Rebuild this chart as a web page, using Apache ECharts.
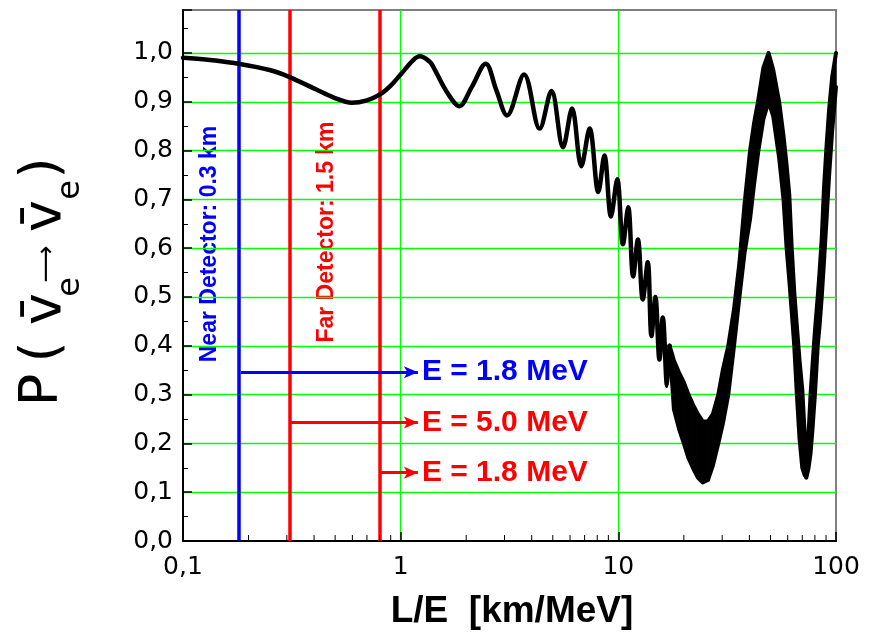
<!DOCTYPE html>
<html lang="en">
<head>
<meta charset="UTF-8">
<title>P(anti-nue -> anti-nue) vs L/E</title>
<script src="https://cdn.jsdelivr.net/npm/echarts@6/dist/echarts.min.js"></script>
<style>
    html, body { margin: 0; padding: 0; background: #fff; }
    #main { width: 877px; height: 634px; }
</style>
</head>
<body>
<div id="main"></div>
<script>
// survival probability, single line part (0.1 .. 17 km/MeV)
var curveX = [0.1, 0.13, 0.185, 0.25, 0.307, 0.41, 0.49, 0.596, 0.70, 0.804, 0.90, 1.0,
    1.14, 1.226, 1.36, 1.41, 1.63, 1.86, 2.12, 2.46, 2.75, 3.08, 3.69, 4.35, 4.93,
    5.57, 6.13, 6.76, 7.38, 8.09, 8.63, 9.25, 9.89, 10.5, 11.1, 11.7, 12.3, 12.95,
    13.65, 14.2, 14.8, 15.45, 16.0, 16.75, 17.2];
var curveY = [0.990, 0.986, 0.977, 0.965, 0.951, 0.925, 0.909, 0.898, 0.903, 0.915, 0.933, 0.956,
    0.985, 0.993, 0.982, 0.972, 0.920, 0.891, 0.930, 0.978, 0.924, 0.872, 0.956, 0.845, 0.922,
    0.807, 0.886, 0.768, 0.845, 0.715, 0.790, 0.665, 0.741, 0.608, 0.684, 0.542, 0.618, 0.495,
    0.571, 0.42, 0.50, 0.372, 0.458, 0.318, 0.40];

// above ~17 km/MeV the fast wiggles merge into a band: top and bottom edge
var bandX = [17.2, 18.0, 19.0, 20.0, 21.0, 22.0, 23.2, 24.4, 25.8, 27.2,
    28.8, 30.2, 32.0, 34.0, 36.0, 38.0, 40.3, 42.0, 44.0, 46.4,
    49.0, 51.5, 54.8, 57.4, 59.3, 61.0, 62.6, 64.3, 66.1, 68.0,
    70.0, 71.8, 73.1, 74.8, 76.4, 78.0, 80.0, 82.4, 84.0, 86.0,
    88.0, 90.5, 93.0, 96.0, 100];
var bandTop = [0.40, 0.37, 0.345, 0.325, 0.30, 0.28, 0.26, 0.245, 0.245, 0.26,
    0.30, 0.35, 0.40, 0.475, 0.57, 0.69, 0.80, 0.855, 0.905, 0.97,
    1.0, 0.965, 0.90, 0.83, 0.77, 0.71, 0.60, 0.51, 0.44, 0.37,
    0.31, 0.22, 0.17, 0.22, 0.30, 0.36, 0.43, 0.50, 0.55, 0.62,
    0.72, 0.81, 0.885, 0.95, 1.0];
var bandBottom = [0.40, 0.27, 0.23, 0.20, 0.17, 0.15, 0.13, 0.12, 0.125, 0.155,
    0.20, 0.24, 0.30, 0.40, 0.50, 0.59, 0.66, 0.73, 0.80, 0.865,
    0.90, 0.87, 0.785, 0.70, 0.60, 0.535, 0.47, 0.40, 0.30, 0.21,
    0.15, 0.135, 0.13, 0.15, 0.18, 0.23, 0.30, 0.40, 0.44, 0.50,
    0.57, 0.66, 0.75, 0.84, 0.93];

// detector positions (L/E) and the energy arrows
var detectorX = [0.1845, 0.307, 0.804];
var detectorColor = ['#0000ff', '#ff0000', '#ff0000'];
var arrowY = [0.346, 0.243, 0.140];
var arrowEnd = 1.2;
var arrowText = ['E = 1.8 MeV', 'E = 5.0 MeV', 'E = 1.8 MeV'];

var myChart = echarts.init(document.getElementById('main'), null, { renderer: 'canvas' });

var curveData = curveX.map(function (x, i) { return [x, curveY[i]]; });
var topData = bandX.map(function (x, i) { return [x, bandTop[i]]; });
var bottomData = bandX.map(function (x, i) { return [x, bandBottom[i]]; });
// one quad per step of the band: x0, x1, top0, top1, bottom0, bottom1
var bandCells = [];
for (var i = 0; i < bandX.length - 1; i++) {
    bandCells.push([bandX[i], bandX[i + 1], bandTop[i], bandTop[i + 1], bandBottom[i], bandBottom[i + 1]]);
}

// log minor ticks 2..9 in every decade
var minorTicks = [];
[0.1, 1, 10].forEach(function (d) {
    for (var k = 2; k <= 9; k++) minorTicks.push([+(k * d).toFixed(2)]);
});

var markData = [];
detectorX.forEach(function (x, i) {
    markData.push({ xAxis: x, lineStyle: { color: detectorColor[i], width: 3.5, type: 'solid' }, label: { show: false } });
});
detectorX.forEach(function (x, i) {
    markData.push([
        { coord: [x, arrowY[i]], symbol: 'none',
          lineStyle: { color: detectorColor[i], width: 3, type: 'solid' },
          label: { show: true, position: 'end', formatter: arrowText[i], color: detectorColor[i],
                   fontSize: 30, fontWeight: 'bold', fontFamily: 'Liberation Sans', distance: 4 } },
        { coord: [arrowEnd, arrowY[i]], symbol: 'arrow', symbolSize: [9, 14] }
    ]);
});

var labelFont = 'DejaVu Sans';

// rotated y title, built from pieces so the subscripts can sit low
function titlePiece(text, x, y, size) {
    return {
        type: 'text', x: x, y: y, rotation: Math.PI / 2,
        style: { text: text, fill: '#000', fontSize: size, fontFamily: 'DejaVu Sans',
                 align: 'center', verticalAlign: 'middle' }
    };
}

var option = {
    backgroundColor: '#ffffff',
    animation: false,
    grid: {
        left: 183, right: 41, top: 10, bottom: 93,
        show: true, borderColor: '#7f7f7f', borderWidth: 2
    },
    xAxis: {
        type: 'log',
        logBase: 10,
        min: 0.1,
        max: 100,
        axisLine: { lineStyle: { color: '#000', width: 2 } },
        axisTick: { inside: true, length: 9, lineStyle: { color: '#000', width: 1.5 } },
        splitLine: { show: true, showMinLine: false, showMaxLine: false, lineStyle: { color: '#00ff00', width: 1.3 } },
        axisLabel: {
            color: '#000', fontSize: 25, fontFamily: labelFont, margin: 14,
            formatter: function (v) { return String(v).replace('.', ','); }
        }
    },
    yAxis: {
        type: 'value',
        min: 0,
        max: 1.088,
        interval: 0.1,
        axisLine: { show: true, lineStyle: { color: '#000', width: 2 } },
        axisTick: { show: true, inside: true, length: 9, lineStyle: { color: '#000', width: 1.5 } },
        minorTick: { show: true, splitNumber: 2, length: 5, lineStyle: { color: '#000', width: 1 } },
        splitLine: { show: true, showMinLine: false, showMaxLine: false, lineStyle: { color: '#00ff00', width: 1.3 } },
        axisLabel: {
            color: '#000', fontSize: 25, fontFamily: labelFont, margin: 10,
            formatter: function (v) { return v > 1.001 ? '' : v.toFixed(1).replace('.', ','); }
        }
    },
    series: [
        {
            name: 'detectors',
            type: 'line',
            data: [],
            z: 1,
            markLine: { silent: true, symbol: ['none', 'none'], animation: false, data: markData }
        },
        {
            name: 'xMinorTicks',
            type: 'custom',
            silent: true,
            z: 6,
            data: minorTicks,
            encode: { x: 0 },
            renderItem: function (params, api) {
                var p = api.coord([api.value(0), 0]);
                return {
                    type: 'line',
                    shape: { x1: p[0], y1: p[1], x2: p[0], y2: p[1] - 6 },
                    style: { stroke: '#000', lineWidth: 1 }
                };
            }
        },
        {
            name: 'P',
            type: 'line',
            data: curveData,
            z: 5,
            showSymbol: false,
            smooth: 0.35,
            lineStyle: { color: '#000', width: 4.5, join: 'round', cap: 'round' }
        },
        {
            name: 'band',
            type: 'custom',
            z: 5,
            silent: true,
            data: bandCells,
            encode: { x: [0, 1], y: [2, 3, 4, 5] },
            renderItem: function (params, api) {
                var p0 = api.coord([api.value(0), api.value(2)]);
                var p1 = api.coord([api.value(1), api.value(3)]);
                var p2 = api.coord([api.value(1), api.value(5)]);
                var p3 = api.coord([api.value(0), api.value(4)]);
                return {
                    type: 'polygon',
                    shape: { points: [p0, p1, p2, p3] },
                    style: { fill: '#000', stroke: '#000', lineWidth: 1 }
                };
            }
        },
        {
            name: 'bandTop',
            type: 'line',
            data: topData,
            z: 5,
            showSymbol: false,
            lineStyle: { color: '#000', width: 4, join: 'round', cap: 'round' }
        },
        {
            name: 'bandBottom',
            type: 'line',
            data: bottomData,
            z: 5,
            showSymbol: false,
            lineStyle: { color: '#000', width: 4, join: 'round', cap: 'round' }
        }
    ],
    graphic: [
        {
            type: 'text', x: 210, y: 244, rotation: Math.PI / 2,
            style: { text: 'Near Detector: 0.3 km', fill: '#0000ff', fontSize: 23, fontWeight: 'bold',
                     fontFamily: 'Liberation Sans', align: 'center', verticalAlign: 'middle' }
        },
        {
            type: 'text', x: 327, y: 232, rotation: Math.PI / 2,
            style: { text: 'Far Detector: 1.5 km', fill: '#ff0000', fontSize: 23, fontWeight: 'bold',
                     fontFamily: 'Liberation Sans', align: 'center', verticalAlign: 'middle' }
        },
        {
            type: 'text', x: 512, y: 612,
            style: { text: 'L/E  [km/MeV]', fill: '#000', fontSize: 37, fontWeight: 'bold',
                     fontFamily: 'Liberation Sans', align: 'center', verticalAlign: 'middle' }
        },
        titlePiece('P', 43, 390, 54),
        titlePiece('(', 44, 352, 54),
        titlePiece('v\u0304', 46, 309, 54),
        titlePiece('e', 71, 287, 32),
        titlePiece('\u27F6', 47, 264, 26),
        titlePiece('v\u0304', 46, 216, 54),
        titlePiece('e', 71, 190, 32),
        titlePiece(')', 44, 168, 54)
    ]
};

myChart.setOption(option);
</script>
</body>
</html>
